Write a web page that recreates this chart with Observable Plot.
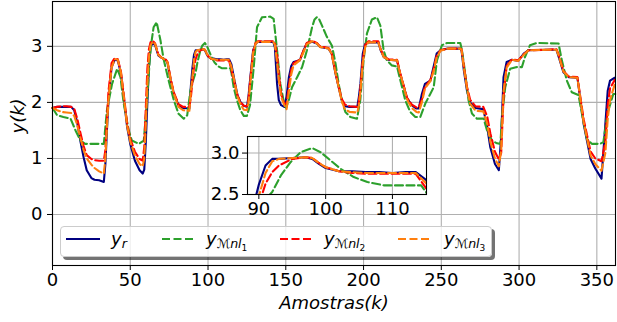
<!DOCTYPE html>
<html><head><meta charset="utf-8">
<script src="https://cdn.jsdelivr.net/npm/d3@7"></script>
<script src="https://cdn.jsdelivr.net/npm/@observablehq/plot@0.6"></script>
<style>
body{margin:0;background:#fff;}
#wrap{position:relative;width:617px;height:322px;font-family:"DejaVu Sans";overflow:hidden;}
#inset{position:absolute;left:197px;top:130px;}
#legend{position:absolute;left:60px;top:226px;width:432px;height:31px;box-sizing:border-box;
  background:rgba(255,255,255,0.8);border:1px solid #cccccc;border-radius:4px;box-shadow:3px 3px 0 rgba(0,0,0,0.55);}
#legend svg{position:absolute;left:-1px;top:-1px;overflow:visible;}
</style></head><body><div id="wrap"></div>
<script>
// ---- data ----
const kA = [0,3,6,9,12,14,16,18,20,22,25,27,30,33,34,35,36,38,40,42,44,46,48,50,53,56,58,59,60,61,62,63,64.5,66,68,70,73,74,76,78,81,84,88,89,90,91,92,93,95,97,98,99,100,102,104,106,108,110,112,113.5,115,117,119,121,123,125,126,127,129,130.5,132,137,142,143,144.4,145.5,147,149,150.5,152,153.5,155,159,161.5,163.5,167,170,172,177.5,179.5,182,184,186,188,191,196,197,198,199.5,201,203,209.5,211,213,216,221.5,223.5,226,228,231,234,235.5,237.5,239.5,243,245,247,249.5,254,262,263,264.5,266.5,268.5,272,277,279.5,281.5,284.5,287,288.5,290,292,295.5,299.5,303,306,318,324,325.5,328.5,332,337.5,341.5,346,349,353,355.5,357,358.5,361.5];
const yR  = [1.90,1.92,1.92,1.92,1.92,1.86,1.62,1.30,1.02,0.79,0.65,0.62,0.61,0.58,0.90,1.50,2.03,2.63,2.76,2.75,2.51,2.04,1.56,1.26,0.96,0.79,0.73,0.80,1.30,2.00,2.63,2.99,3.06,3.02,2.84,2.80,2.75,2.70,2.39,2.16,1.95,1.90,1.89,2.30,2.62,2.85,2.93,2.93,2.94,2.95,2.93,2.87,2.82,2.78,2.78,2.77,2.77,2.76,2.77,2.77,2.68,2.39,2.12,2.00,1.94,1.92,2.10,2.39,2.93,3.04,3.08,3.08,3.08,2.98,2.33,2.04,1.95,1.92,2.10,2.45,2.65,2.72,2.75,2.93,3.05,3.08,3.05,2.99,2.96,2.87,2.51,2.27,2.04,1.93,1.92,1.92,2.10,2.33,2.87,3.04,3.07,3.07,2.93,2.81,2.76,2.75,2.51,2.27,2.07,1.95,1.89,1.89,2.15,2.33,2.39,2.63,2.87,2.93,2.96,2.96,2.93,2.57,2.21,2.00,1.90,1.88,1.56,1.20,0.90,0.79,1.39,2.45,2.72,2.76,2.74,2.87,2.93,2.94,2.94,2.81,2.54,2.45,2.44,1.62,0.99,0.82,0.64,1.62,2.21,2.39,2.44];
const yM2 = [1.90,1.92,1.93,1.93,1.92,1.88,1.70,1.45,1.22,1.06,0.99,0.97,0.96,0.96,1.15,1.70,2.20,2.70,2.79,2.77,2.55,2.10,1.62,1.35,1.12,0.99,0.96,1.20,1.90,2.60,2.95,3.07,3.10,3.05,2.86,2.80,2.76,2.72,2.42,2.18,1.97,1.92,1.92,2.10,2.38,2.63,2.77,2.85,2.93,2.95,2.94,2.88,2.83,2.78,2.76,2.75,2.75,2.75,2.75,2.75,2.58,2.35,2.12,2.00,1.94,1.93,2.05,2.35,2.90,3.06,3.09,3.09,3.09,3.05,2.85,2.50,2.15,1.98,1.97,2.30,2.58,2.70,2.76,2.93,3.06,3.10,3.06,3.00,2.97,2.88,2.53,2.28,2.06,1.96,1.93,1.92,2.00,2.25,2.75,3.02,3.09,3.09,2.95,2.82,2.77,2.76,2.53,2.28,2.08,1.96,1.91,1.91,2.05,2.28,2.40,2.58,2.83,2.93,2.96,2.96,2.95,2.65,2.28,2.05,1.93,1.92,1.75,1.45,1.12,0.98,1.10,2.10,2.65,2.77,2.75,2.86,2.93,2.94,2.95,2.85,2.56,2.46,2.45,1.70,1.12,1.00,0.95,1.30,1.95,2.25,2.40];
const yM3 = [1.90,1.86,1.83,1.82,1.81,1.76,1.58,1.36,1.15,1.00,0.89,0.83,0.77,0.73,1.00,1.55,2.05,2.62,2.77,2.76,2.53,2.06,1.58,1.30,1.05,0.90,0.86,1.00,1.60,2.35,2.80,3.02,3.08,3.04,2.85,2.80,2.75,2.71,2.40,2.16,1.92,1.86,1.85,2.20,2.48,2.76,2.90,2.93,2.94,2.95,2.94,2.88,2.83,2.78,2.77,2.76,2.76,2.76,2.76,2.76,2.64,2.38,2.10,1.96,1.87,1.86,2.00,2.30,2.88,3.04,3.08,3.08,3.08,3.02,2.70,2.40,2.10,1.95,1.88,2.20,2.50,2.66,2.75,2.90,3.04,3.09,3.05,2.99,2.96,2.87,2.52,2.27,2.02,1.88,1.83,1.82,1.95,2.20,2.70,2.98,3.07,3.07,2.94,2.81,2.76,2.75,2.52,2.27,2.05,1.90,1.83,1.82,2.00,2.25,2.38,2.55,2.80,2.92,2.96,2.96,2.94,2.62,2.25,1.98,1.85,1.84,1.62,1.30,1.00,0.86,1.15,2.20,2.62,2.76,2.74,2.85,2.93,2.94,2.94,2.83,2.55,2.45,2.44,1.65,1.05,0.90,0.78,1.10,1.70,2.05,2.32];
const kG  = [0,3,7,11.6,14.8,18,21,33,35,38.3,41.6,43.7,45.8,49,51,55.5,58.7,60.8,62.5,63.5,65,67,69.4,71.6,74.7,78,81,84.4,86.6,88.7,90.5,92,93.3,94.75,96.25,98,99.25,100.75,102.25,104.2,106.25,108.75,114.3,115.1,116.5,118.6,120.8,123,125,127,129.4,131.5,134.7,140,142.2,144.4,146.5,148.8,150.2,151.9,154,157.3,160.5,163.6,166.9,168.5,170,171.5,173.3,176.4,179.7,182,184,186,188.3,191.5,195.8,197.9,200,202.2,205.4,208.6,210.8,212.9,215,218.2,221.5,223.7,226.8,230,233.3,236.5,239.7,242.9,245.1,247.2,250.4,253.7,262.2,263.3,265.4,267.5,269.7,272.9,277.2,279.4,282.6,285.8,288,289,291.1,294.3,298.6,301.8,303.8,307,311.3,325.4,327.5,330.7,333.9,338.2,340.4,343.6,346.8,352.1,354.2,356.8,360.6,362];
const yM1 = [1.90,1.77,1.74,1.71,1.50,1.32,1.26,1.26,1.86,2.33,2.60,2.45,1.98,1.50,1.32,1.26,1.32,2.04,2.75,3.05,3.34,3.43,3.11,2.75,2.39,2.04,1.80,1.71,1.77,2.21,2.40,2.53,2.73,2.89,3.01,3.06,3.01,2.91,2.81,2.71,2.65,2.61,2.61,2.52,2.27,2.04,1.86,1.76,1.76,1.95,2.63,3.34,3.52,3.53,3.49,2.93,2.33,2.00,1.90,2.04,2.27,2.45,2.63,2.93,3.34,3.48,3.52,3.48,3.37,3.17,3.01,2.69,2.33,2.04,1.83,1.74,1.71,2.04,2.75,3.23,3.48,3.52,3.37,2.93,2.75,2.66,2.64,2.39,2.04,1.83,1.74,1.74,1.98,2.15,2.27,2.75,3.02,3.06,3.06,2.93,2.51,2.04,1.80,1.71,1.71,1.50,1.32,1.27,1.26,1.74,2.27,2.60,2.63,2.63,2.81,3.02,3.06,3.05,2.75,2.39,2.18,2.13,1.80,1.35,1.26,1.26,1.29,1.80,2.15,2.15];
const xTicks = [0,50,100,150,200,250,300,350];
const yTicks = [0,1,2,3];
const insetXTicks = [90,100,110];
const insetYTicks = [2.5,3.0];
const colors = ["#000080","#2ca02c","#ff0000","#ff7f0e"];

const toRows = (ks, vs) => ks.map((k,i)=>({k, v: vs[i]}));
const S = [
  {rows: toRows(kA, yR), color: colors[0], dash: null},
  {rows: toRows(kG, yM1), color: colors[1], dash: "8,3.5"},
  {rows: toRows(kA, yM2), color: colors[2], dash: "8,3.5"},
  {rows: toRows(kA, yM3), color: colors[3], dash: "8,3.5"}
];
const lineMarks = (clip) => S.map(s => Plot.line(s.rows, {x:"k", y:"v", stroke:s.color, strokeWidth:2.1,
  strokeDasharray: s.dash, clip}));

const GRID = "#b0b0b0";
const main = Plot.plot({
  width: 617, height: 322,
  marginLeft: 52, marginRight: 2, marginTop: 1, marginBottom: 57,
  x: {domain: [0, 362], label: null},
  y: {domain: [-0.91, 3.8], label: null},
  style: {fontFamily: "DejaVu Sans", fontSize: "18px", color: "black", background: "white"},
  marks: [
    Plot.gridX(xTicks, {stroke: GRID, strokeOpacity: 1, strokeWidth: 1.1}),
    Plot.gridY(yTicks, {stroke: GRID, strokeOpacity: 1, strokeWidth: 1.1}),
    ...lineMarks(false),
    Plot.frame({stroke: "black", strokeWidth: 1.1}),
    Plot.axisX(xTicks, {tickSize: 5, tickPadding: 3, fontSize: 18, label: null, tickFormat: d => String(d)}),
    Plot.axisY(yTicks, {tickSize: 5, tickPadding: 5, fontSize: 18, label: null, tickFormat: d => String(d)}),
    Plot.text(["Amostras(k)"], {frameAnchor: "bottom", dy: 38, fontStyle: "italic", fontSize: 18, lineAnchor: "middle"}),
    Plot.text(["y(k)"], {frameAnchor: "left", dx: -34, rotate: -90, fontStyle: "italic", fontSize: 18, lineAnchor: "middle"})
  ]
});

const inset = Plot.plot({
  width: 235, height: 96,
  marginLeft: 50, marginRight: 6, marginTop: 6, marginBottom: 32,
  x: {domain: [88.3, 115.1], label: null},
  y: {domain: [2.5, 3.2], label: null},
  style: {fontFamily: "DejaVu Sans", fontSize: "18px", color: "black", background: "transparent"},
  marks: [
    Plot.frame({fill: "white"}),
    Plot.gridX(insetXTicks, {stroke: GRID, strokeOpacity: 1, strokeWidth: 1.1}),
    Plot.gridY(insetYTicks, {stroke: GRID, strokeOpacity: 1, strokeWidth: 1.1}),
    ...lineMarks(true),
    Plot.frame({stroke: "black", strokeWidth: 1.1}),
    Plot.axisX(insetXTicks, {tickSize: 5, tickPadding: 3, fontSize: 18, label: null, tickFormat: d => String(d)}),
    Plot.axisY(insetYTicks, {tickSize: 5, tickPadding: 3, fontSize: 18, label: null, tickFormat: d => d.toFixed(1)})
  ]
});
inset.id = "inset";

const wrap = document.getElementById("wrap");
wrap.appendChild(main);
wrap.appendChild(inset);

const legend = document.createElement("div");
legend.id = "legend";
legend.innerHTML = `<svg width="432" height="31" font-family="DejaVu Sans">
 <line x1="6" x2="40" y1="13" y2="13" stroke="${colors[0]}" stroke-width="2.1"/>
 <line x1="102" x2="136" y1="13" y2="13" stroke="${colors[1]}" stroke-width="2.1" stroke-dasharray="8,3.5"/>
 <line x1="220" x2="254" y1="13" y2="13" stroke="${colors[2]}" stroke-width="2.1" stroke-dasharray="8,3.5"/>
 <line x1="338" x2="372" y1="13" y2="13" stroke="${colors[3]}" stroke-width="2.1" stroke-dasharray="8,3.5"/>
 <text x="51" y="18.5" font-size="18" font-style="italic">y<tspan dy="3.5" font-size="12.6">r</tspan></text>
 <text x="146" y="18.5" font-size="18"><tspan font-style="italic">y</tspan><tspan dy="3.5" font-size="12.6">ℳ</tspan><tspan font-style="italic" font-size="12.6">nl</tspan><tspan dy="2.5" font-size="9">1</tspan></text>
 <text x="264" y="18.5" font-size="18"><tspan font-style="italic">y</tspan><tspan dy="3.5" font-size="12.6">ℳ</tspan><tspan font-style="italic" font-size="12.6">nl</tspan><tspan dy="2.5" font-size="9">2</tspan></text>
 <text x="384" y="18.5" font-size="18"><tspan font-style="italic">y</tspan><tspan dy="3.5" font-size="12.6">ℳ</tspan><tspan font-style="italic" font-size="12.6">nl</tspan><tspan dy="2.5" font-size="9">3</tspan></text>
</svg>`;
wrap.appendChild(legend);
</script></body></html>
